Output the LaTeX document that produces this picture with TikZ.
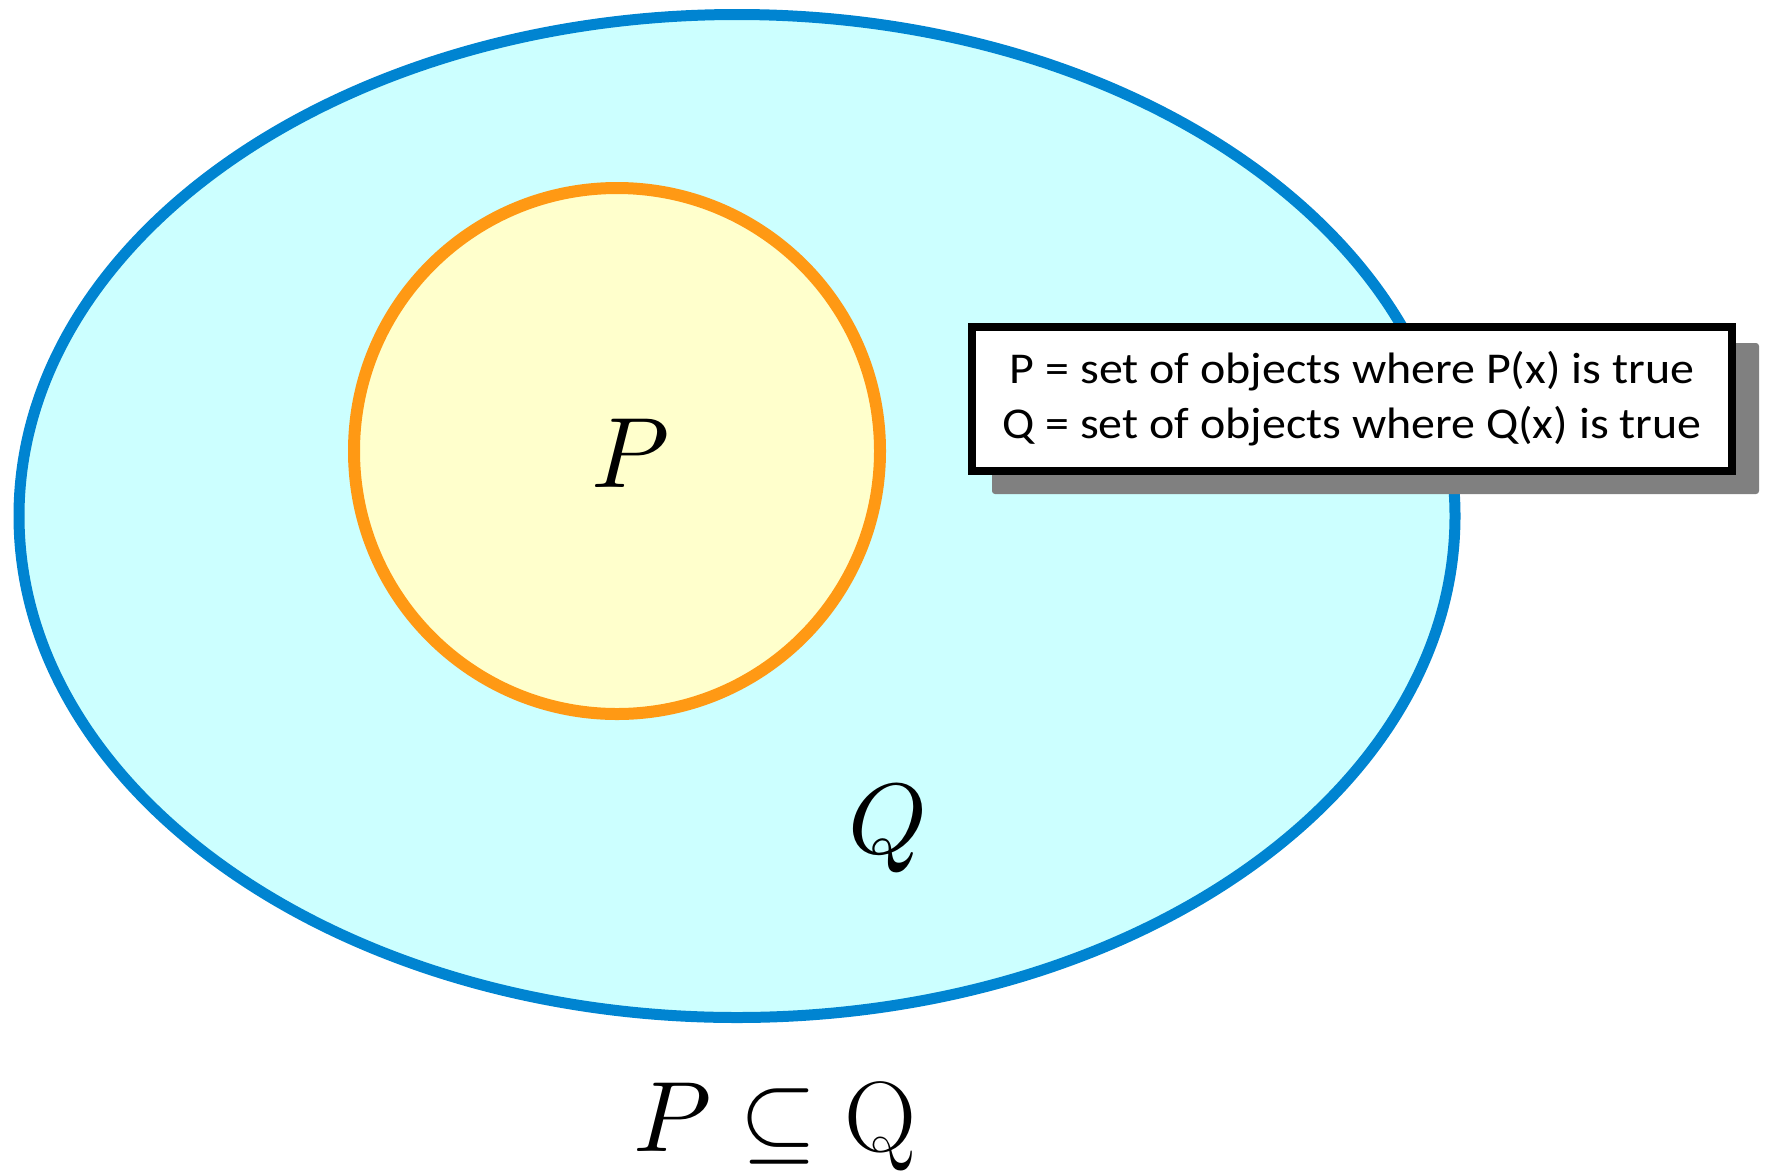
\documentclass[tikz,border=0pt]{standalone}
\usepackage{fontspec}
\usepackage{unicode-math}
\usepackage{tikz}
\usetikzlibrary{shapes.geometric}
\newfontfamily\notefont[FakeStretch=1.09]{Carlito}
\definecolor{qfill}{HTML}{CCFFFF}
\definecolor{qline}{HTML}{0084D1}
\definecolor{pfill}{HTML}{FFFFCC}
\definecolor{pline}{HTML}{FF9914}
\definecolor{shade}{HTML}{808080}
\tikzset{
  qset/.style    = {ellipse, draw=qline, fill=qfill, line width=11pt, inner sep=0pt,
                    minimum width=1436pt, minimum height=1003pt},
  pset/.style    = {circle, draw=pline, fill=pfill, line width=12pt, inner sep=0pt,
                    minimum size=526pt},
  setlbl/.style  = {anchor=base, inner sep=0pt, font=\fontsize{100}{120}\selectfont},
  notebox/.style = {draw=black, fill=white, line width=8pt, inner sep=0pt, align=center,
                    minimum width=759.5pt, minimum height=144pt,
                    font=\notefont\fontsize{44}{55}\selectfont},
  shadebox/.style = {fill=shade, rounded corners=3pt, inner sep=0pt, outer sep=0pt,
                    minimum width=767pt, minimum height=151pt}
}
\begin{document}
\begin{tikzpicture}[x=1pt, y=-1pt]
  \useasboundingbox (0,0) rectangle (1767,1171);
  \node[qset] (Qset) at (737,516) {};
  \node[pset] (Pset) at (617,451) {};
  \node[setlbl] (Plbl) at (631,487) {$P$};
  \node[setlbl] (Qlbl) at (888,853) {$Q$};
  % legend with its drop shadow
  \coordinate (notec) at (1352,395.5);
  \node[shadebox] (noteshade) at ([shift={(23.5,23)}]notec) {};
  \node[notebox] (note) at ([shift={(0,3)}]notec)
       {P = set of objects where P(x) is true\\Q = set of objects where Q(x) is true};
  \node[setlbl] (rel) at (775,1151) {$P \subseteq \mathrm{Q}$};
\end{tikzpicture}
\end{document}
